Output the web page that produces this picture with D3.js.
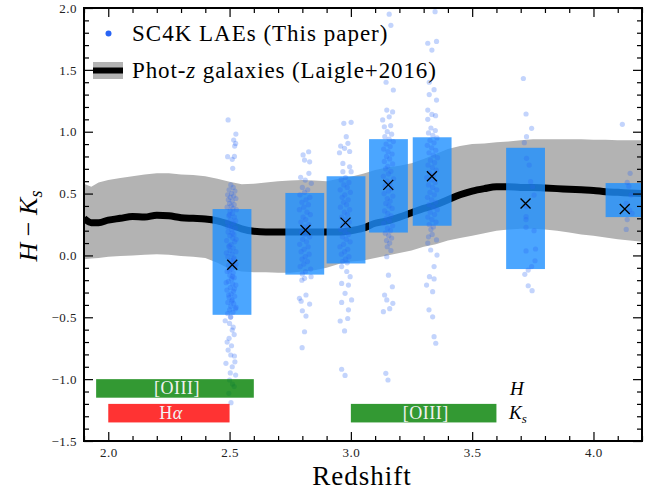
<!DOCTYPE html>
<html><head><meta charset="utf-8">
<script src="https://cdn.jsdelivr.net/npm/d3@7/dist/d3.min.js"></script>
<style>
html,body{margin:0;padding:0;background:#fff;}
svg{display:block;}
text{font-family:"Liberation Serif","DejaVu Serif",serif;}
</style></head>
<body>
<svg id="chart" width="660" height="492"></svg>
<script>
// ---------- data ----------
const xTicks = [2.0, 2.5, 3.0, 3.5, 4.0];
const yTicks = [-1.5, -1.0, -0.5, 0.0, 0.5, 1.0, 1.5, 2.0];

// Laigle+2016 phot-z galaxies: redshift grid, median and 16-84 band
const bandZ = [1.90,1.93,1.96,2.00,2.05,2.10,2.15,2.20,2.25,2.30,2.35,2.40,2.45,2.50,2.55,2.60,2.65,2.70,2.75,2.80,2.85,2.90,2.95,3.00,3.05,3.10,3.15,3.20,3.25,3.30,3.35,3.40,3.45,3.50,3.55,3.60,3.65,3.70,3.75,3.80,3.85,3.90,3.95,4.00,4.05,4.10,4.15,4.20];
const bandUpper = [0.58,0.555,0.59,0.61,0.625,0.64,0.655,0.665,0.665,0.655,0.65,0.64,0.62,0.595,0.575,0.58,0.59,0.60,0.605,0.61,0.605,0.60,0.62,0.635,0.66,0.69,0.71,0.725,0.745,0.78,0.82,0.86,0.885,0.90,0.905,0.915,0.92,0.93,0.94,0.94,0.94,0.94,0.94,0.935,0.935,0.93,0.93,0.93];
const bandLower = [-0.03,-0.025,-0.02,-0.01,-0.005,0.0,0.005,0.01,0.005,-0.005,-0.01,-0.02,-0.06,-0.11,-0.13,-0.135,-0.135,-0.14,-0.14,-0.13,-0.12,-0.10,-0.07,-0.05,-0.04,-0.02,0.0,0.02,0.04,0.07,0.09,0.12,0.14,0.16,0.18,0.20,0.21,0.215,0.215,0.21,0.20,0.185,0.17,0.16,0.145,0.13,0.12,0.11];
const bandMedian = [0.30,0.265,0.265,0.285,0.30,0.315,0.31,0.325,0.32,0.305,0.30,0.295,0.28,0.25,0.215,0.195,0.19,0.19,0.19,0.19,0.19,0.19,0.19,0.20,0.22,0.26,0.28,0.31,0.345,0.38,0.41,0.45,0.49,0.52,0.54,0.555,0.555,0.55,0.55,0.545,0.54,0.535,0.53,0.525,0.515,0.51,0.505,0.50];

// SC4K LAE bins
const binLo  = [2.43, 2.73, 2.90, 3.075, 3.255, 3.64, 4.05];
const binHi  = [2.59, 2.89, 3.06, 3.235, 3.415, 3.80, 4.21];
const binBottom = [-0.48, -0.155, -0.065, 0.185, 0.24, -0.11, 0.31];
const binTop    = [0.375, 0.505, 0.64, 0.94, 0.955, 0.87, 0.585];
const medZ  = [2.511, 2.813, 2.978, 3.154, 3.334, 3.720, 4.129];
const medHK = [-0.075, 0.205, 0.265, 0.57, 0.64, 0.42, 0.375];

// individual LAEs [redshift, H-Ks]
const laeZ25 = [[2.494,1.095],[2.526,0.981],[2.517,0.933],[2.521,0.884],[2.525,0.905],[2.492,0.798],[2.511,0.777],[2.520,0.80],[2.513,0.704],
[2.505,0.57],[2.515,0.55],[2.498,0.53],[2.522,0.52],[2.508,0.50],[2.492,0.49],[2.517,0.48],[2.503,0.47],[2.526,0.46],[2.495,0.45],[2.511,0.44],[2.500,0.42],[2.519,0.41],[2.507,0.40],[2.490,0.39],[2.514,0.38],[2.528,0.37],[2.502,0.36],
[2.512,0.34],[2.497,0.32],[2.520,0.31],[2.505,0.29],[2.491,0.27],[2.516,0.26],[2.503,0.24],[2.524,0.22],[2.509,0.21],[2.494,0.19],[2.518,0.17],[2.501,0.16],[2.513,0.14],[2.488,0.12],[2.521,0.11],[2.506,0.09],[2.497,0.07],[2.515,0.06],[2.502,0.04],[2.526,0.03],[2.510,0.01],[2.493,-0.01],[2.518,-0.02],[2.504,-0.04],[2.512,-0.06],[2.496,-0.08],[2.522,-0.09],[2.507,-0.11],[2.490,-0.13],[2.515,-0.14],[2.501,-0.16],[2.519,-0.18],[2.508,-0.19],[2.495,-0.21],[2.513,-0.23],[2.526,-0.24],[2.503,-0.26],[2.489,-0.28],[2.516,-0.29],[2.506,-0.31],[2.521,-0.33],[2.498,-0.34],[2.511,-0.36],[2.493,-0.38],[2.517,-0.39],[2.505,-0.41],[2.524,-0.43],[2.500,-0.44],[2.514,-0.46],[2.492,-0.47],
[2.500,0.33],[2.525,0.28],[2.493,0.23],[2.511,0.18],[2.527,0.13],[2.499,0.08],[2.487,0.02],[2.517,-0.03],[2.527,-0.07],[2.499,-0.12],[2.512,-0.17],[2.486,-0.22],[2.520,-0.27],[2.496,-0.32],[2.509,-0.37],[2.527,-0.42],[2.504,-0.50],
[2.482,-0.528],[2.505,-0.496],[2.511,-0.603],[2.498,-0.67],[2.519,-0.64],[2.494,-0.765],[2.505,-0.805],[2.520,-0.813],[2.485,-0.872],[2.511,-0.90],[2.525,-0.967],[2.500,-1.007],[2.519,-1.06],[2.497,-1.115],[2.506,-1.19],[2.500,-0.55],[2.515,-0.58],[2.490,-0.70],[2.508,-0.73],[2.522,-0.86],[2.503,-0.95],[2.512,-1.04]];
const laeZ28 = [[2.803,0.812],[2.826,0.838],[2.809,0.771],[2.830,0.757],[2.827,0.664],[2.793,0.631],[2.812,0.609],[2.837,0.583],
[2.800,0.55],[2.822,0.53],[2.809,0.51],[2.790,0.49],[2.831,0.47],[2.815,0.45],[2.798,0.43],[2.825,0.41],[2.806,0.39],[2.788,0.37],[2.819,0.35],[2.833,0.33],[2.803,0.31],[2.814,0.29],[2.794,0.27],[2.827,0.25],[2.808,0.23],[2.820,0.21],[2.796,0.19],[2.811,0.17],[2.830,0.15],[2.801,0.13],[2.817,0.11],[2.789,0.09],[2.824,0.07],[2.807,0.05],[2.795,0.03],[2.828,0.01],[2.812,-0.01],[2.799,-0.03],[2.821,-0.05],[2.806,-0.07],[2.791,-0.09],[2.834,-0.11],[2.813,-0.13],[2.800,-0.15],
[2.809,-0.185],[2.836,-0.172],[2.798,-0.20],[2.815,-0.32],[2.788,-0.347],[2.795,-0.37],[2.830,-0.393],[2.800,-0.447],[2.815,-0.49],[2.809,-0.617],[2.799,-0.746]];
const laeZ30 = [[2.971,1.068],[3.001,1.076],[2.981,0.96],[2.988,0.906],[2.958,0.884],[2.974,0.866],[2.995,0.84],[2.953,0.83],[2.967,0.744],[2.995,0.717],[2.967,0.677],[3.001,0.677],
[2.978,0.63],[2.960,0.61],[2.992,0.59],[2.971,0.57],[2.985,0.55],[2.956,0.53],[2.998,0.51],[2.975,0.49],[2.964,0.47],[2.989,0.45],[2.970,0.43],[2.982,0.41],[2.957,0.39],[2.995,0.37],[2.973,0.35],[2.986,0.33],[2.962,0.31],[2.979,0.29],[2.993,0.27],[2.968,0.25],[2.984,0.23],[2.958,0.21],[2.976,0.19],[2.990,0.17],[2.965,0.15],[2.981,0.13],[2.997,0.11],[2.970,0.09],[2.955,0.07],[2.987,0.05],[2.974,0.03],[2.961,0.01],[2.992,-0.01],[2.978,-0.03],[2.966,-0.05],[2.985,-0.06],
[2.962,-0.09],[2.983,-0.13],[2.997,-0.172],[2.962,-0.226],[2.990,-0.24],[2.976,-0.306],[3.003,-0.36],[2.962,-0.38],[2.990,-0.44],[2.987,-0.51],[2.956,-0.53],[2.974,-0.61],[2.962,-0.92],[2.976,-0.97]];
const laeZ32 = [[3.158,1.95],[3.165,1.86],[3.145,1.40],[3.175,1.337],[3.148,1.175],[3.172,1.16],[3.131,1.095],[3.158,1.12],[3.138,1.04],[3.164,1.05],
[3.150,1.00],[3.168,0.98],[3.140,0.96],[3.158,0.94],[3.175,0.92],[3.145,0.90],[3.162,0.88],[3.135,0.86],[3.153,0.84],[3.170,0.82],[3.147,0.80],[3.160,0.78],[3.138,0.76],[3.172,0.74],[3.152,0.72],[3.143,0.70],[3.165,0.68],[3.155,0.66],[3.134,0.64],[3.176,0.62],[3.149,0.60],[3.161,0.58],[3.141,0.56],[3.168,0.54],[3.155,0.52],[3.137,0.50],[3.173,0.48],[3.150,0.46],[3.162,0.44],[3.144,0.42],[3.157,0.40],[3.170,0.38],[3.139,0.36],[3.152,0.34],[3.166,0.32],[3.146,0.30],[3.159,0.28],[3.135,0.26],[3.172,0.24],[3.151,0.22],[3.163,0.20],[3.142,0.18],[3.156,0.16],[3.168,0.14],[3.147,0.12],[3.160,0.10],
[3.150,0.07],[3.165,0.04],[3.148,-0.01],[3.155,-0.16],[3.171,-0.253],[3.139,-0.32],[3.148,-0.36],[3.173,-0.387],[3.134,-0.455],[3.160,-0.43],[3.144,-0.953],[3.153,-1.007]];
const laeZ33 = [[3.347,1.97],[3.317,1.715],[3.353,1.73],[3.334,1.66],[3.323,1.40],[3.343,1.34],[3.323,1.30],[3.353,1.256],[3.317,1.175],[3.334,1.14],[3.349,1.13],[3.317,1.10],
[3.330,1.03],[3.348,1.01],[3.320,0.99],[3.338,0.97],[3.355,0.95],[3.326,0.93],[3.343,0.91],[3.315,0.89],[3.333,0.87],[3.350,0.85],[3.322,0.83],[3.340,0.81],[3.357,0.79],[3.328,0.77],[3.345,0.75],[3.318,0.73],[3.336,0.71],[3.352,0.69],[3.324,0.67],[3.341,0.65],[3.313,0.63],[3.331,0.61],[3.348,0.59],[3.320,0.57],[3.337,0.55],[3.354,0.53],[3.326,0.51],[3.344,0.49],[3.316,0.47],[3.333,0.45],[3.350,0.43],[3.322,0.41],[3.339,0.39],[3.356,0.37],[3.327,0.35],[3.345,0.33],[3.317,0.31],[3.334,0.29],[3.351,0.27],[3.323,0.25],[3.340,0.23],[3.330,0.21],
[3.335,0.17],[3.320,0.15],[3.353,0.125],[3.317,0.10],[3.329,0.044],[3.355,0.003],[3.343,-0.09],[3.324,-0.172],[3.343,-0.19],[3.312,-0.24],[3.337,-0.293],[3.322,-0.44],[3.337,-0.496],[3.343,-0.657],[3.350,-0.71]];
const laeZ37 = [[3.711,1.43],[3.722,1.143],[3.745,1.027],[3.724,0.96],[3.715,0.911],[3.724,0.785],[3.735,0.73],[3.741,0.596],[3.749,0.555],[3.755,0.488],[3.724,0.394],[3.722,0.313],[3.722,0.29],[3.722,0.227],[3.755,0.20],[3.722,0.036],[3.761,0.052],[3.759,-0.043],[3.745,-0.09],[3.731,-0.118],[3.717,-0.153],[3.731,-0.245],[3.747,-0.285]];
const laeZ41 = [[4.119,1.06],[4.151,0.664],[4.139,0.59],[4.146,0.56],[4.155,0.488],[4.135,0.421],[4.149,0.367],[4.159,0.34],[4.139,0.29],[4.135,0.21]];

// emission-line windows
const lineLabels = ["[OIII]", "Hα", "[OIII]"];
const lineZ0 = [1.95, 2.00, 3.00];
const lineZ1 = [2.60, 2.50, 3.60];
const lineY0 = [-1.15, -1.35, -1.35];
const lineY1 = [-1.00, -1.20, -1.20];
const lineColors = ["green", "red", "green"];

// ---------- drawing ----------
const svg = d3.select("#chart");
const L = 84, R = 642, T = 8, B = 441;
const x = d3.scaleLinear([1.9, 4.2], [L, R]);
const y = d3.scaleLinear([-1.5, 2.0], [B, T]);

svg.append("defs").append("clipPath").attr("id", "clip")
  .append("rect").attr("x", L).attr("y", T).attr("width", R - L).attr("height", B - T);
const g = svg.append("g").attr("clip-path", "url(#clip)");

const band = bandZ.map((z, i) => ({z, lo: bandLower[i], hi: bandUpper[i], med: bandMedian[i]}));
g.append("path").datum(band)
  .attr("d", d3.area().x(d => x(d.z)).y0(d => y(d.lo)).y1(d => y(d.hi)))
  .attr("fill", "#b3b3b3");
g.append("path").datum(band)
  .attr("d", d3.line().x(d => x(d.z)).y(d => y(d.med)).curve(d3.curveMonotoneX))
  .attr("fill", "none").attr("stroke", "#000").attr("stroke-width", 7);

const bins = binLo.map((lo, i) => ({lo, hi: binHi[i], b: binBottom[i], t: binTop[i], mz: medZ[i], mh: medHK[i]}));
g.selectAll("rect.bin").data(bins).join("rect").attr("class", "bin")
  .attr("x", d => x(d.lo)).attr("width", d => x(d.hi) - x(d.lo))
  .attr("y", d => y(d.t)).attr("height", d => y(d.b) - y(d.t))
  .attr("fill", "rgb(30,144,255)").attr("fill-opacity", 0.8);

const lae = [].concat(laeZ25, laeZ28, laeZ30, laeZ32, laeZ33, laeZ37, laeZ41);
g.selectAll("circle.lae").data(lae).join("circle").attr("class", "lae")
  .attr("cx", d => x(d[0])).attr("cy", d => y(d[1])).attr("r", 2.6)
  .attr("fill", "rgb(40,100,245)").attr("fill-opacity", 0.28);

const cs = 5;
g.selectAll("path.med").data(bins).join("path").attr("class", "med")
  .attr("d", d => { const cx = x(d.mz), cy = y(d.mh);
    return `M${cx-cs},${cy-cs}L${cx+cs},${cy+cs}M${cx-cs},${cy+cs}L${cx+cs},${cy-cs}`; })
  .attr("stroke", "#000").attr("stroke-width", 1.3).attr("fill", "none");

// emission-line bars
const lines = lineLabels.map((t, i) => ({t, z0: lineZ0[i], z1: lineZ1[i], y0: lineY0[i], y1: lineY1[i], c: lineColors[i]}));
g.selectAll("rect.el").data(lines).join("rect").attr("class", "el")
  .attr("x", d => x(d.z0)).attr("width", d => x(d.z1) - x(d.z0))
  .attr("y", d => y(d.y1)).attr("height", d => y(d.y0) - y(d.y1))
  .attr("fill", d => d.c).attr("fill-opacity", 0.8);
const elText = svg.selectAll("text.el").data(lines).join("text").attr("class", "el")
  .attr("x", d => (x(d.z0) + x(d.z1)) / 2 + 2)
  .attr("y", d => (y(d.y0) + y(d.y1)) / 2 + 6)
  .attr("text-anchor", "middle").attr("font-size", 18).attr("letter-spacing", 0.5).attr("fill", "#f2f2f2");
elText.each(function(d) {
  const t = d3.select(this);
  if (d.t === "Hα") { t.append("tspan").text("H"); t.append("tspan").attr("font-style", "italic").text("α"); }
  else t.text(d.t);
});
svg.append("text").attr("x", 510).attr("y", 395).attr("font-size", 19).attr("font-style", "italic").text("H");
const ks = svg.append("text").attr("x", 509).attr("y", 419).attr("font-size", 19).attr("font-style", "italic");
ks.append("tspan").text("K");
ks.append("tspan").attr("dy", 4).attr("font-size", 13).text("s");

// axes
const minorX = d3.range(19, 43).map(v => v / 10).filter(v => !xTicks.some(t => Math.abs(t - v) < 1e-6));
const minorY = d3.range(-15, 21).map(v => v / 10).filter(v => !yTicks.some(t => Math.abs(t - v) < 1e-6));
const fmt = d3.format(".1f");
function addAxis(axisFn, scale, vals, size, transform, labels) {
  const a = svg.append("g").attr("transform", transform)
    .call(axisFn(scale).tickValues(vals).tickSize(-size).tickSizeOuter(0).tickPadding(7)
      .tickFormat(labels ? fmt : () => ""));
  a.select(".domain").remove();
  a.selectAll("line").attr("stroke", "#000").attr("stroke-width", 1.2);
  a.selectAll("text").attr("font-family", "Liberation Serif, DejaVu Serif, serif").attr("font-size", 13)
    .attr("letter-spacing", 0.5).attr("fill", "#222");
  return a;
}
addAxis(d3.axisBottom, x, xTicks, 9, `translate(0,${B})`, true);
addAxis(d3.axisBottom, x, minorX, 5, `translate(0,${B})`, false);
addAxis(d3.axisTop, x, xTicks, 9, `translate(0,${T})`, false);
addAxis(d3.axisTop, x, minorX, 5, `translate(0,${T})`, false);
addAxis(d3.axisLeft, y, yTicks, 9, `translate(${L},0)`, true);
addAxis(d3.axisLeft, y, minorY, 5, `translate(${L},0)`, false);
addAxis(d3.axisRight, y, yTicks, 9, `translate(${R},0)`, false);
addAxis(d3.axisRight, y, minorY, 5, `translate(${R},0)`, false);

svg.append("rect").attr("x", L).attr("y", T).attr("width", R - L).attr("height", B - T)
  .attr("fill", "none").attr("stroke", "#000").attr("stroke-width", 2);

// axis titles
svg.append("text").attr("x", 362).attr("y", 485).attr("text-anchor", "middle").attr("font-size", 27)
  .attr("letter-spacing", 1).text("Redshift");
const yl = svg.append("text").attr("transform", "translate(37,226) rotate(-90)").attr("text-anchor", "middle").attr("font-size", 26);
yl.append("tspan").attr("font-style", "italic").text("H");
yl.append("tspan").text(" − ");
yl.append("tspan").attr("font-style", "italic").text("K");
yl.append("tspan").attr("font-style", "italic").attr("font-size", 18).attr("dy", 5).text("s");

// legend
svg.append("circle").attr("cx", 108.5).attr("cy", 33.5).attr("r", 3).attr("fill", "rgb(40,100,245)");
svg.append("text").attr("x", 132).attr("y", 41).attr("font-size", 23).attr("letter-spacing", 1).text("SC4K LAEs (This paper)");
svg.append("rect").attr("x", 93).attr("y", 62).attr("width", 30).attr("height", 17).attr("fill", "#b3b3b3");
svg.append("line").attr("x1", 93).attr("x2", 123).attr("y1", 70.5).attr("y2", 70.5).attr("stroke", "#000").attr("stroke-width", 6);
const l2 = svg.append("text").attr("x", 132).attr("y", 78).attr("font-size", 23).attr("letter-spacing", 0.9);
l2.append("tspan").text("Phot-");
l2.append("tspan").attr("font-style", "italic").text("z");
l2.append("tspan").text(" galaxies (Laigle+2016)");
</script>
</body></html>
